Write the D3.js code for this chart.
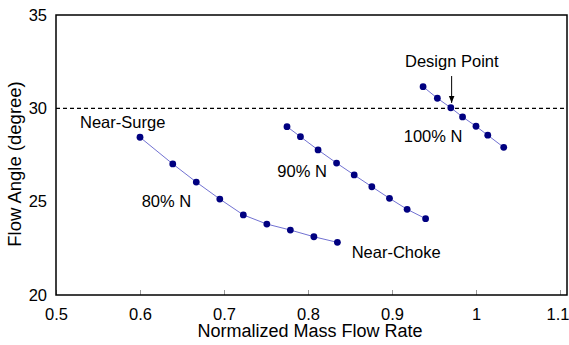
<!DOCTYPE html>
<html>
<head>
<meta charset="utf-8">
<script src="https://cdn.jsdelivr.net/npm/d3@7"></script>
<style>
body { margin: 0; background: #fff; }
text { font-family: "Liberation Sans", Arial, sans-serif; fill: #000; }
</style>
</head>
<body>
<div id="chart"></div>
<script>
const SVG_WIDTH = 569;
const SVG_HEIGHT = 345;
const MARGIN = { top: 15, left: 56 };
const PLOT_W = 504;   // 0.5 .. 1.1
const FRAME_W = 511;  // frame runs a bit past 1.1
const HEIGHT = 280;

const X_TICKS = [0.5, 0.6, 0.7, 0.8, 0.9, 1, 1.1];
const Y_TICKS = [20, 25, 30, 35];

const flow80 = [0.600, 0.639, 0.667, 0.695, 0.723, 0.751, 0.779, 0.807, 0.835];
const angle80 = [28.45, 27.02, 26.05, 25.14, 24.29, 23.80, 23.48, 23.12, 22.82];
const flow90 = [0.775, 0.791, 0.812, 0.834, 0.855, 0.876, 0.897, 0.918, 0.940];
const angle90 = [29.02, 28.48, 27.77, 27.07, 26.43, 25.80, 25.18, 24.59, 24.09];
const flow100 = [0.937, 0.954, 0.970, 0.984, 1.000, 1.014, 1.033];
const angle100 = [31.16, 30.54, 30.03, 29.54, 29.04, 28.56, 27.91];

const DESIGN_ANGLE = 30;
const DESIGN_FLOW = 0.971;

const series = [
  { name: "80% N", x: flow80, y: angle80 },
  { name: "90% N", x: flow90, y: angle90 },
  { name: "100% N", x: flow100, y: angle100 }
];

const svg = d3.select("#chart").append("svg")
  .attr("width", SVG_WIDTH)
  .attr("height", SVG_HEIGHT);

const g = svg.append("g")
  .attr("transform", `translate(${MARGIN.left},${MARGIN.top})`);

const x = d3.scaleLinear().domain([0.5, 1.1]).range([0, PLOT_W]);
const y = d3.scaleLinear().domain([20, 35]).range([HEIGHT, 0]);

// x axis, grey ticks pointing inward
g.append("g")
  .attr("transform", `translate(0,${HEIGHT})`)
  .call(d3.axisBottom(x).tickValues(X_TICKS).tickSize(-5).tickPadding(13).tickFormat(d3.format("")))
  .call(a => a.select(".domain").remove())
  .call(a => a.selectAll("line").attr("stroke", "#999"))
  .call(a => a.selectAll("text").style("font-size", "16.5px"))
  .call(a => a.selectAll("text").filter(d => d === 1.1).attr("dx", -2.5));

g.append("g")
  .call(d3.axisLeft(y).tickValues(Y_TICKS).tickSize(0).tickPadding(9))
  .call(a => a.select(".domain").remove())
  .call(a => a.selectAll("text").style("font-size", "16.5px"));

// frame
g.append("rect")
  .attr("width", FRAME_W).attr("height", HEIGHT)
  .attr("fill", "none").attr("stroke", "#000").attr("stroke-width", 1.5);

// design angle line
g.append("line")
  .attr("x1", 0).attr("x2", FRAME_W)
  .attr("y1", y(DESIGN_ANGLE)).attr("y2", y(DESIGN_ANGLE))
  .attr("stroke", "#000").attr("stroke-width", 1.2)
  .attr("stroke-dasharray", "4,3");

const line = d3.line().x(d => x(d[0])).y(d => y(d[1]));

series.forEach(s => {
  const pts = s.x.map((v, i) => [v, s.y[i]]);
  g.append("path")
    .attr("d", line(pts))
    .attr("fill", "none")
    .attr("stroke", "#7272d2")
    .attr("stroke-width", 1);
  g.selectAll(null).data(pts).join("circle")
    .attr("cx", d => x(d[0]))
    .attr("cy", d => y(d[1]))
    .attr("r", 3.4)
    .attr("fill", "#000080");
});

// annotations
const labels = [
  { t: "Near-Surge", x: 0.5286, y: 28.93 },
  { t: "80% N", x: 0.602, y: 24.70 },
  { t: "90% N", x: 0.7635, y: 26.30 },
  { t: "100% N", x: 0.914, y: 28.21 },
  { t: "Near-Choke", x: 0.852, y: 21.98 },
  { t: "Design Point", x: 0.9155, y: 32.20 }
];
g.selectAll(".lbl").data(labels).join("text")
  .attr("class", "lbl")
  .attr("x", d => x(d.x))
  .attr("y", d => y(d.y))
  .style("font-size", "16.5px")
  .text(d => d.t);

svg.append("defs").append("marker")
  .attr("id", "arrow")
  .attr("viewBox", "0 0 10 10")
  .attr("refX", 10).attr("refY", 5)
  .attr("markerWidth", 7).attr("markerHeight", 7)
  .attr("markerUnits", "userSpaceOnUse")
  .attr("orient", "auto")
  .append("path").attr("d", "M0,1L10,5L0,9z").attr("fill", "#000");

g.append("line")
  .attr("x1", x(DESIGN_FLOW)).attr("x2", x(DESIGN_FLOW))
  .attr("y1", y(31.73)).attr("y2", y(30.29))
  .attr("stroke", "#000").attr("stroke-width", 1)
  .attr("marker-end", "url(#arrow)");

// axis titles
svg.append("text")
  .attr("x", MARGIN.left + PLOT_W / 2 + 2)
  .attr("y", 337)
  .attr("text-anchor", "middle")
  .style("font-size", "18px")
  .text("Normalized Mass Flow Rate");

svg.append("text")
  .attr("transform", `translate(20.5,164) rotate(-90)`)
  .attr("text-anchor", "middle")
  .style("font-size", "18.5px")
  .text("Flow Angle (degree)");
</script>
</body>
</html>
